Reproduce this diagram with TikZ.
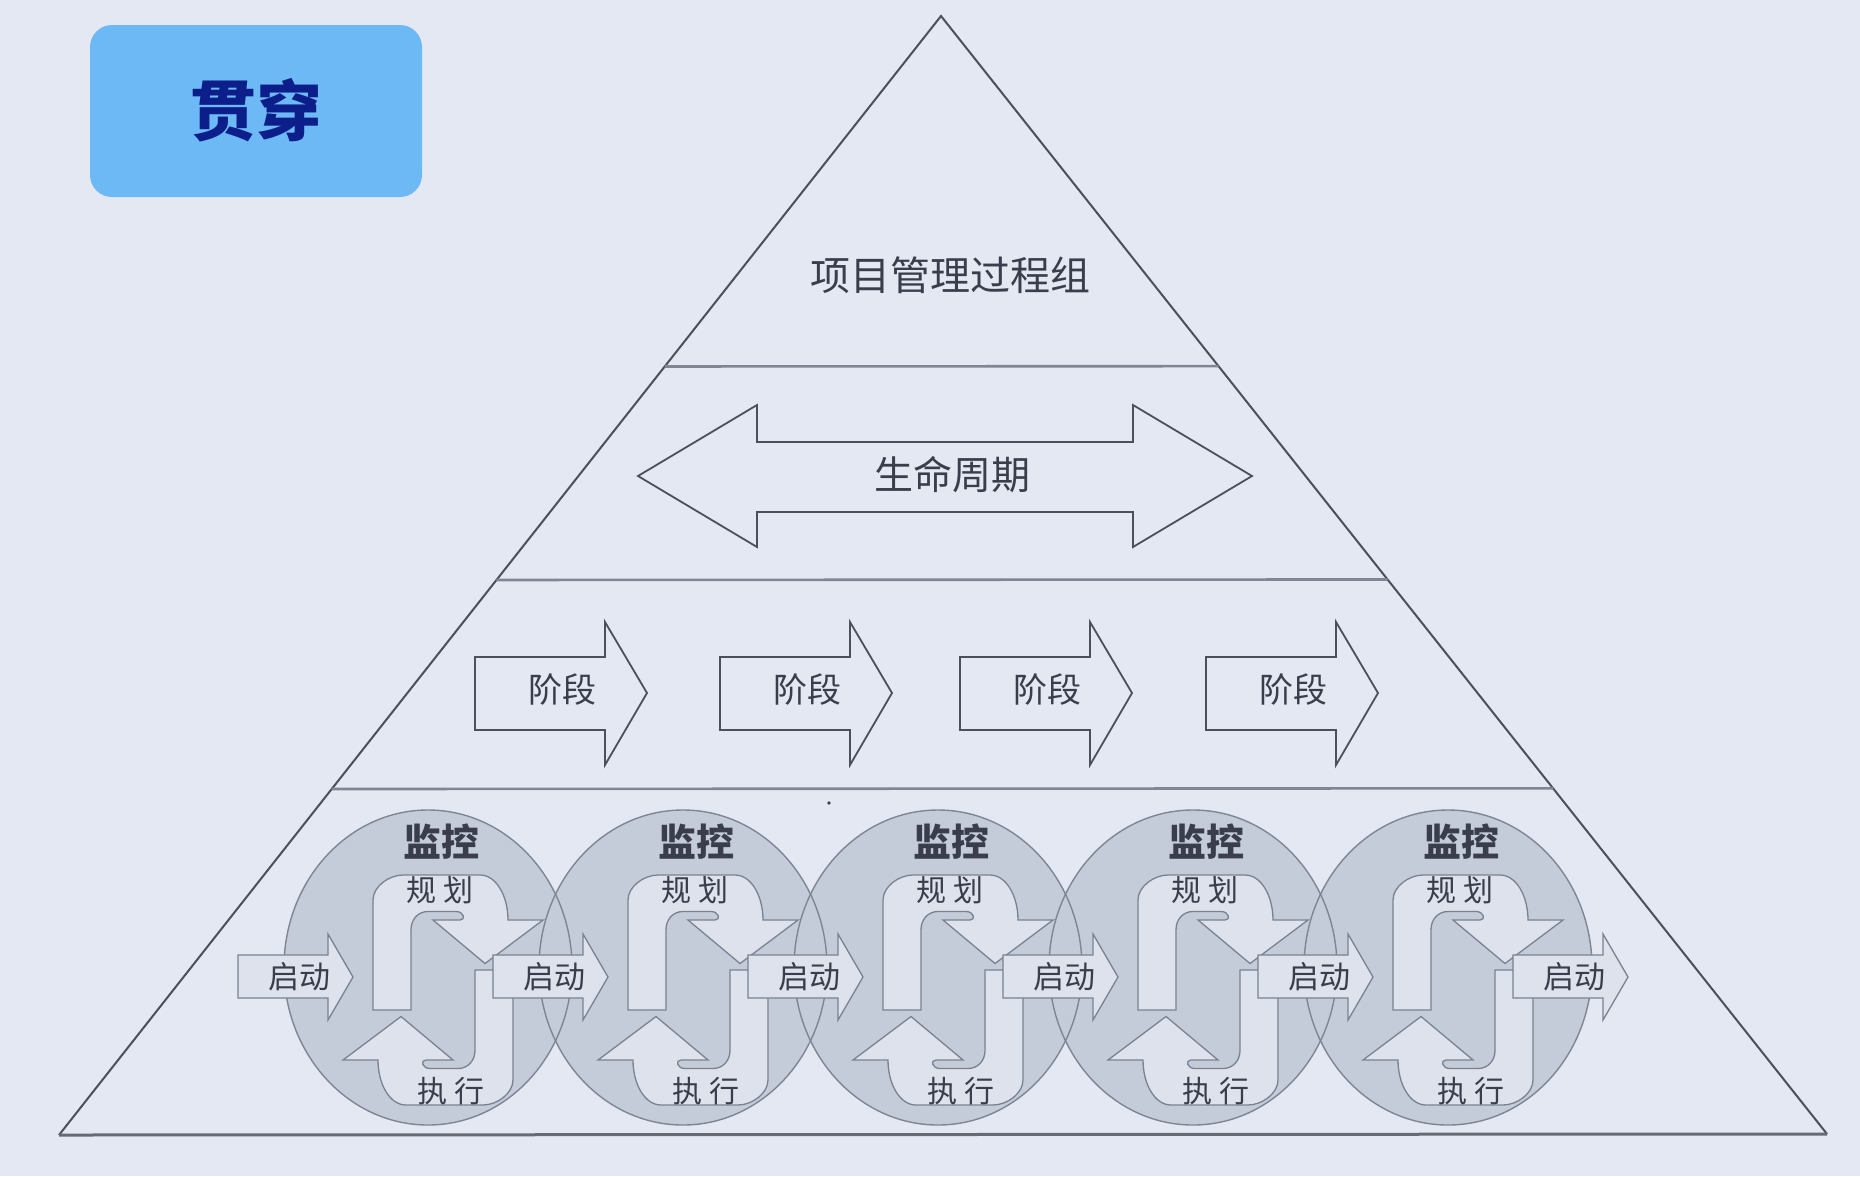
\documentclass[tikz,border=0pt]{standalone}
\usepackage{fontspec}
\newfontfamily\cjk{Noto Sans CJK SC}
\usetikzlibrary{calc}
\definecolor{bgc}{HTML}{E4E8F3}
\definecolor{titlec}{HTML}{6DB9F5}
\definecolor{titletxt}{HTML}{0C1E8A}
\definecolor{txtc}{HTML}{3A3E4C}
\definecolor{linec}{HTML}{4B505C}
\definecolor{hlinec}{HTML}{7F8593}
\definecolor{ellf}{HTML}{C5CCD9}
\definecolor{elld}{HTML}{7E8696}
\definecolor{arrf}{HTML}{DDE2EC}
\definecolor{arrd}{HTML}{7A8291}
\tikzset{
 lbl/.style={font=\cjk\fontsize{#1}{#1}\selectfont, text=txtc, inner sep=0pt},
 outl/.style={draw=linec, line width=1.8pt, line join=miter},
 hl/.style={draw=hlinec, line width=2.6pt},
 cyc/.style={draw=arrd, fill=arrf, line width=1.3pt, line join=miter},
 ellfill/.style={fill=ellf},
 elldraw/.style={draw=elld, line width=1.4pt},
 cycshape/.pic={\path[cyc] (-55,42.5) -- (-55,-67.5) .. controls (-55,-81) and (-39,-92.5) .. (-25,-92.5) -- (52,-92.5) .. controls (68,-92.5) and (80,-72) .. (80,-47.5) -- (115,-47.5) -- (57,-4) -- (5,-47.5) -- (32,-47.5) .. controls (38,-47.5) and (36,-56) .. (28,-56) -- (0,-56) .. controls (-10,-56) and (-17,-48) .. (-17,-38) -- (-17,42.5) -- cycle;}
}
\begin{document}
\begin{tikzpicture}[x=1pt,y=-1pt]
\fill[bgc] (0,0) rectangle (1860,1176);
\useasboundingbox (0,0) rectangle (1860,1176);

% title
\node[fill=titlec, rounded corners=22pt, minimum width=332pt, minimum height=172pt, inner sep=0pt] (titlebox) at (256,111) {};
\node[font=\cjk\bfseries\fontsize{66}{66}\selectfont, text=titletxt, inner sep=0pt] (title) at (256,110) {贯穿};

% pyramid
\coordinate (apex) at (941,16);
\coordinate (bl) at (59,1135);
\coordinate (br) at (1827,1134);
\draw[draw=linec, line width=2pt, line join=miter] (bl) -- (apex) -- (br);
\draw[draw=hlinec!80!black, line width=3pt] (bl) -- (br);
\draw[hl] ($(apex)!0.3132!(bl)$) -- ($(apex)!0.3132!(br)$);
\draw[hl] ($(apex)!0.5040!(bl)$) -- ($(apex)!0.5040!(br)$);
\draw[hl] ($(apex)!0.6908!(bl)$) -- ($(apex)!0.6908!(br)$);

\node[lbl=40] (pmg) at (950,275) {项目管理过程组};

% life cycle double arrow
\path[outl] (638,476) -- (757,405) -- (757,442) -- (1133,442) -- (1133,405) -- (1252,476) -- (1133,547) -- (1133,512) -- (757,512) -- (757,547) -- cycle;
\node[lbl=39] (life) at (952,475) {生命周期};

% phase arrows
\foreach \L [count=\n] in {475,720,960,1206} {
  \path[outl] (\L,657) -- (\L+130,657) -- (\L+130,622) -- (\L+172,693) -- (\L+130,765) -- (\L+130,730) -- (\L,730) -- cycle;
  \node[lbl=34] (phase\n) at (\L+87,690) {阶段};
}

% process group cycles
\foreach \i in {0,...,4} {
  \pgfmathsetmacro\c{428+255*\i}
  \fill[ellfill] (\c,967.5) ellipse [x radius=144, y radius=157.5];
}
\foreach \i in {0,...,4} {
  \pgfmathsetmacro\c{428+255*\i}
  \draw[elldraw] (\c,967.5) ellipse [x radius=144, y radius=157.5];
}
\foreach \i in {0,...,4} {
  \pgfmathsetmacro\c{428+255*\i}
  \pic at (\c,967.5) {cycshape};
  \pic[rotate=180] at (\c+30,1012.5) {cycshape};
}
\foreach \i in {0,...,5} {
  \pgfmathsetmacro\c{428+255*\i}
  \path[cyc] (\c-190,955) -- (\c-100,955) -- (\c-100,934) -- (\c-75,977) -- (\c-100,1020) -- (\c-100,998) -- (\c-190,998) -- cycle;
  \node[lbl=31] (start\i) at (\c-129,977) {启动};
}
\foreach \i in {0,...,4} {
  \pgfmathsetmacro\c{428+255*\i}
  \node[lbl=38, font=\cjk\bfseries\fontsize{38}{38}\selectfont] (mon\i) at (\c+13,841.5) {监控};
  \node[lbl=30] (plan\i) at (\c+12,890) {规\hspace{8pt}划};
  \node[lbl=30] (exec\i) at (\c+23,1091) {执\hspace{8pt}行};
}
\fill[txtc] (829,803) circle [radius=1.8];
\end{tikzpicture}
\end{document}
